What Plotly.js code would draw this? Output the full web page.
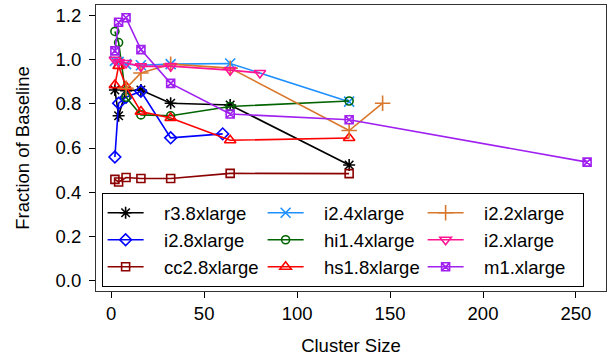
<!DOCTYPE html>
<html>
<head>
<meta charset="utf-8">
<script src="https://cdn.plot.ly/plotly-3.0.1.min.js"></script>
<style>html,body{margin:0;padding:0;background:#fff;}#chart{width:608px;height:358px;}</style>
</head>
<body>
<div id="chart"></div>
<script>
// Data
var seriesNames = ["r3.8xlarge","i2.8xlarge","cc2.8xlarge","i2.4xlarge","hi1.4xlarge","hs1.8xlarge","i2.2xlarge","i2.xlarge","m1.xlarge"];
var r38_x = [2,4,8,16,32,64,128];
var r38_y = [0.863,0.746,0.86,0.863,0.803,0.795,0.523];
var i28_x = [2,4,8,16,32,60];
var i28_y = [0.559,0.803,0.83,0.857,0.646,0.664];
var cc28_x = [2,4,8,16,32,64,128];
var cc28_y = [0.458,0.446,0.466,0.462,0.462,0.485,0.484];
var i24_x = [2,4,8,16,32,64,128];
var i24_y = [0.995,0.99,0.98,0.975,0.98,0.983,0.81];
var hi14_x = [2,4,8,16,32,64,128];
var hi14_y = [1.128,1.078,0.83,0.75,0.746,0.788,0.813];
var hs18_x = [2,4,8,16,32,64,128];
var hs18_y = [0.885,0.972,0.878,0.765,0.736,0.635,0.645];
var i22_x = [8,16,32,64,128,146];
var i22_y = [0.87,0.94,0.98,0.962,0.679,0.803];
var i2x_x = [2,4,8,16,32,64,80];
var i2x_y = [1.0,0.99,0.985,0.97,0.971,0.953,0.94];
var m1_x = [2,4,8,16,32,64,128,256];
var m1_y = [1.04,1.17,1.19,1.046,0.893,0.754,0.728,0.536];
var xTicks = [0,50,100,150,200,250];
var yTicks = [0,0.2,0.4,0.6,0.8,1.0,1.2];

var xs = [r38_x,i28_x,cc28_x,i24_x,hi14_x,hs18_x,i22_x,i2x_x,m1_x];
var ys = [r38_y,i28_y,cc28_y,i24_y,hi14_y,hs18_y,i22_y,i2x_y,m1_y];
var colors = ["#000000","#0000FF","#8B0000","#1E90FF","#006400","#FF0000","#D9782D","#FF1493","#A020F0"];
var symbols = ["asterisk-open","diamond-open","square-open","x-thin-open","circle-open","triangle-up-open","cross-thin-open","triangle-down-open","square-x-open"];
var sizes = [10,9,8,10,8,10,11,10,8];
var ranks = [1,4,7,2,5,8,3,6,9];
var pad = "\u00a0\u00a0\u00a0";

var data = seriesNames.map(function(n,i){
  return {
    x: xs[i], y: ys[i], name: pad + n, type: "scatter", mode: "lines+markers",
    line: {color: colors[i], width: 1.6},
    marker: {symbol: symbols[i], size: sizes[i], color: colors[i], line: {color: colors[i], width: 1.6}},
    legendrank: ranks[i]
  };
});

var fnt = "Liberation Sans, Arial, Helvetica, sans-serif";
var layout = {
  width: 608, height: 358,
  margin: {l: 96, r: 2, t: 5, b: 67},
  paper_bgcolor: "#fff", plot_bgcolor: "#fff",
  font: {family: fnt, size: 18, color: "#000"},
  showlegend: true,
  legend: {
    x: 0.011, y: 0.342, xanchor: "left", yanchor: "top",
    orientation: "h", entrywidth: 109, entrywidthmode: "pixels",
    itemwidth: 36, bordercolor: "#000", borderwidth: 1, bgcolor: "#fff",
    font: {family: fnt, size: 18.5, color: "#000"},
    tracegroupgap: 0
  },
  xaxis: {
    range: [-8.16, 266.16], tickvals: xTicks, ticktext: xTicks.map(String),
    ticks: "outside", ticklen: 6, tickcolor: "#000", tickwidth: 1,
    showline: true, linecolor: "#333", linewidth: 1, mirror: true,
    showgrid: false, zeroline: false,
    tickfont: {family: fnt, size: 18.5},
    title: {text: "Cluster Size", font: {family: fnt, size: 18.5}, standoff: 15}
  },
  yaxis: {
    range: [-0.048, 1.248], tickvals: yTicks, ticktext: yTicks.map(function(v){return v.toFixed(1);}),
    ticks: "outside", ticklen: 6, tickcolor: "#000", tickwidth: 1, ticklabelstandoff: 4,
    showline: true, linecolor: "#333", linewidth: 1, mirror: true,
    showgrid: false, zeroline: false,
    tickfont: {family: fnt, size: 18.5},
    title: {text: "Fraction of Baseline", font: {family: fnt, size: 18.5}, standoff: 21}
  }
};
Plotly.newPlot("chart", data, layout, {displayModeBar: false, staticPlot: true});
</script>
</body>
</html>
